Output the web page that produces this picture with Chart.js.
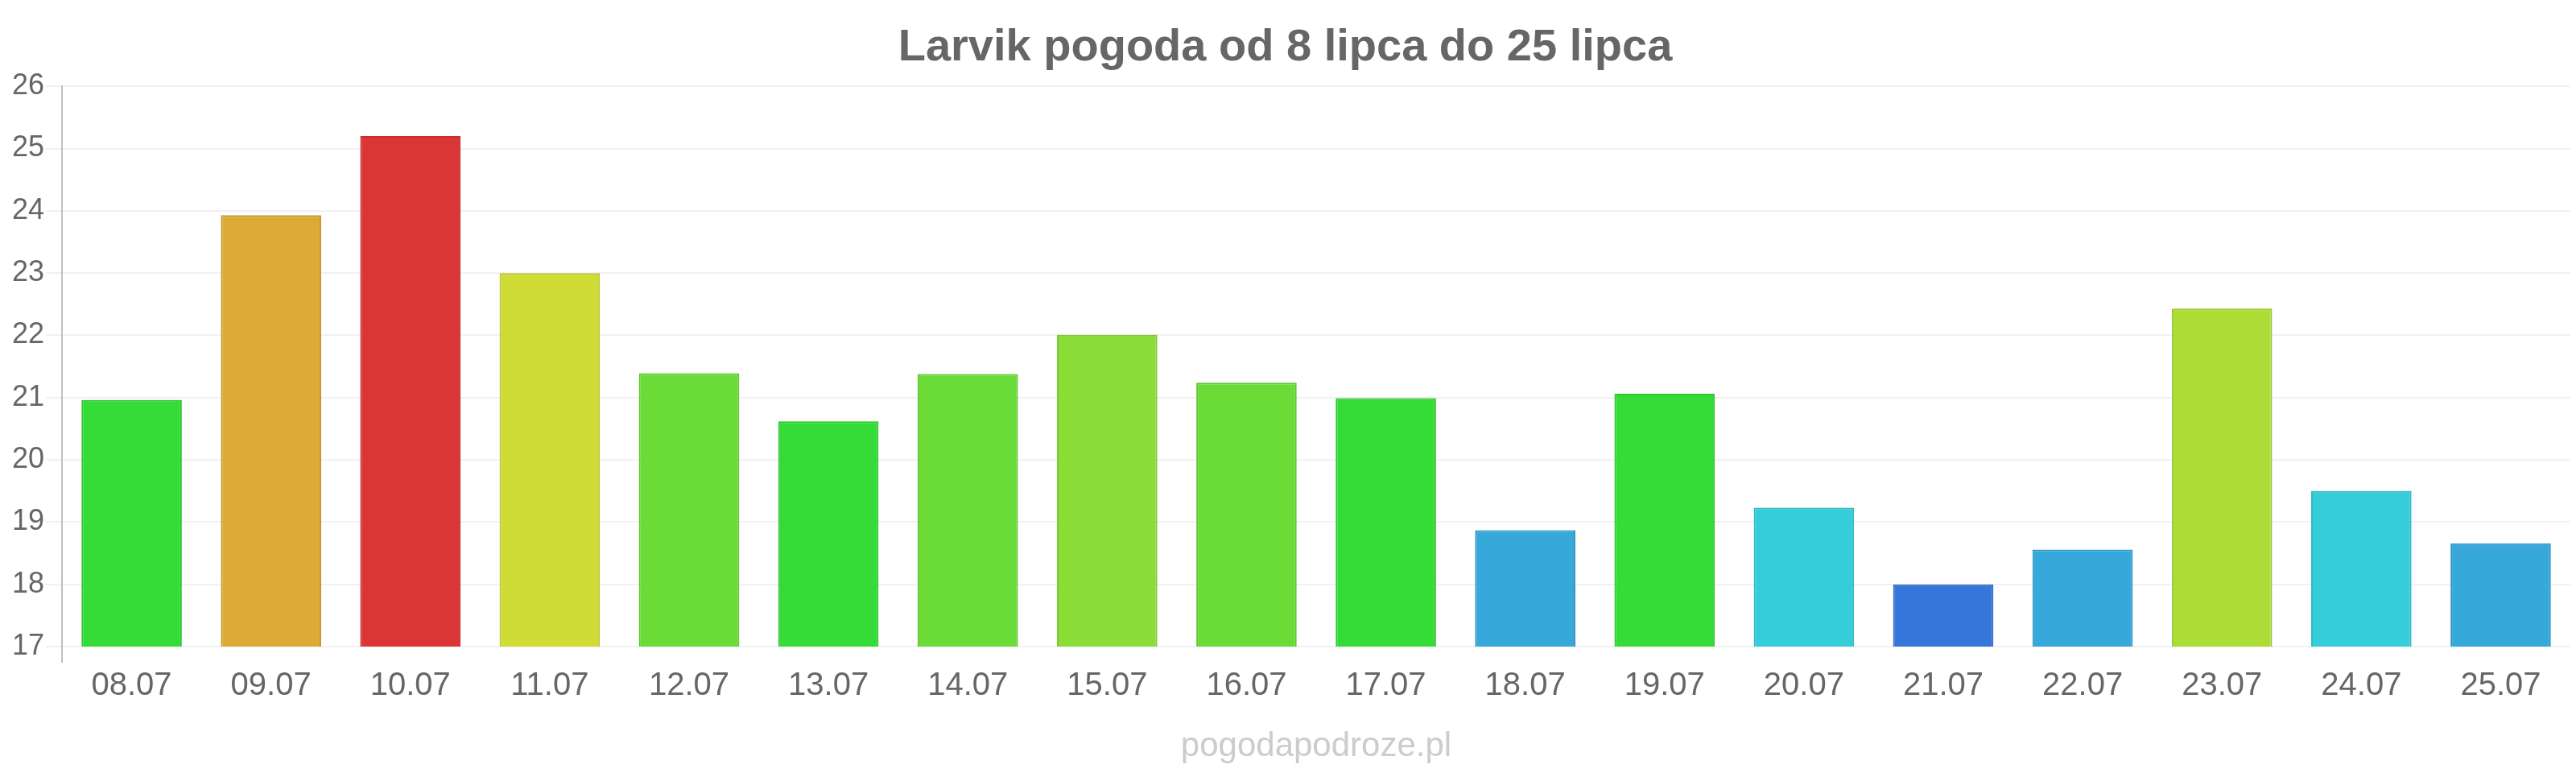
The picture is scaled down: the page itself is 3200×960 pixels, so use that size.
<!DOCTYPE html>
<html>
<head>
<meta charset="utf-8">
<script src="https://cdn.jsdelivr.net/npm/chart.js@4/dist/chart.umd.min.js"></script>
<style>
html,body{margin:0;padding:0;background:#fff;}
#wrap{width:3200px;height:960px;position:relative;}
</style>
</head>
<body>
<div id="wrap"><canvas id="c" width="3200" height="960"></canvas></div>
<script>
const titleText = 'Larvik pogoda od 8 lipca do 25 lipca';
const watermarkText = 'pogodapodroze.pl';
const categories = ['08.07','09.07','10.07','11.07','12.07','13.07','14.07','15.07','16.07','17.07','18.07','19.07','20.07','21.07','22.07','23.07','24.07','25.07'];
const temperatures = [20.96, 23.93, 25.2, 23.0, 21.39, 20.62, 21.38, 22.01, 21.24, 20.99, 18.87, 21.06, 19.23, 18.0, 18.56, 22.43, 19.5, 18.66];
const barColors = ['#35dc37','#dcaa35','#db3535','#cedc35','#6bdc37','#35dc37','#6bdc37','#8adc37','#6bdc37','#35dc37','#36a8da','#35dc37','#36cdda','#3576da','#36a8da','#acdc36','#36cdda','#36a8da'];
const borderColors = ['#2fc731','#c69930','#c53030','#b9c630','#60c632','#2fc731','#60c632','#7cc632','#60c632','#2fc731','#3197c4','#2fc731','#31b9c4','#306ac4','#3197c4','#9bc631','#31b9c4','#3197c4'];
const yMin = 17, yMax = 26;

const watermark = {
  id: 'watermark',
  afterDraw(chart) {
    const ctx = chart.ctx;
    const a = chart.chartArea;
    ctx.save();
    ctx.font = '42px "Liberation Sans", Arial, sans-serif';
    ctx.fillStyle = '#cccccc';
    ctx.textAlign = 'center';
    ctx.textBaseline = 'alphabetic';
    ctx.fillText(watermarkText, (a.left + a.right) / 2, 939);
    ctx.restore();
  }
};

new Chart(document.getElementById('c'), {
  type: 'bar',
  data: {
    labels: categories,
    datasets: [{
      data: temperatures,
      backgroundColor: barColors,
      borderColor: borderColors,
      borderWidth: 2,
      categoryPercentage: 1,
      barPercentage: 0.72
    }]
  },
  options: {
    responsive: false,
    animation: false,
    devicePixelRatio: 1,
    layout: { padding: { left: 0, right: 7, top: 0, bottom: 0 } },
    plugins: {
      legend: { display: false },
      tooltip: { enabled: false },
      title: {
        display: true,
        text: titleText,
        color: '#666666',
        font: { family: '"Liberation Sans", Arial, sans-serif', size: 56, weight: 'bold' },
        padding: { top: 26, bottom: 14 }
      }
    },
    scales: {
      x: {
        offset: true,
        border: { display: false },
        grid: {
          offset: true,
          drawOnChartArea: false,
          tickLength: 20,
          lineWidth: 2,
          color: (c) => c.index === 0 ? '#c0c0c0' : 'rgba(0,0,0,0)'
        },
        ticks: {
          color: '#666666',
          font: { family: '"Liberation Sans", Arial, sans-serif', size: 40 },
          padding: 5,
          maxRotation: 0,
          autoSkip: false
        },
        afterFit: (s) => { s.height = 157; }
      },
      y: {
        min: yMin,
        max: yMax,
        border: { display: true, color: '#c0c0c0', width: 2 },
        grid: {
          color: '#f1f1f1',
          lineWidth: 2,
          tickLength: 20,
          tickColor: '#f1f1f1'
        },
        ticks: {
          stepSize: 1,
          color: '#666666',
          font: { family: '"Liberation Sans", Arial, sans-serif', size: 36 },
          padding: 2
        },
        afterFit: (s) => { s.width = 77; }
      }
    }
  },
  plugins: [watermark]
});
</script>
</body>
</html>
